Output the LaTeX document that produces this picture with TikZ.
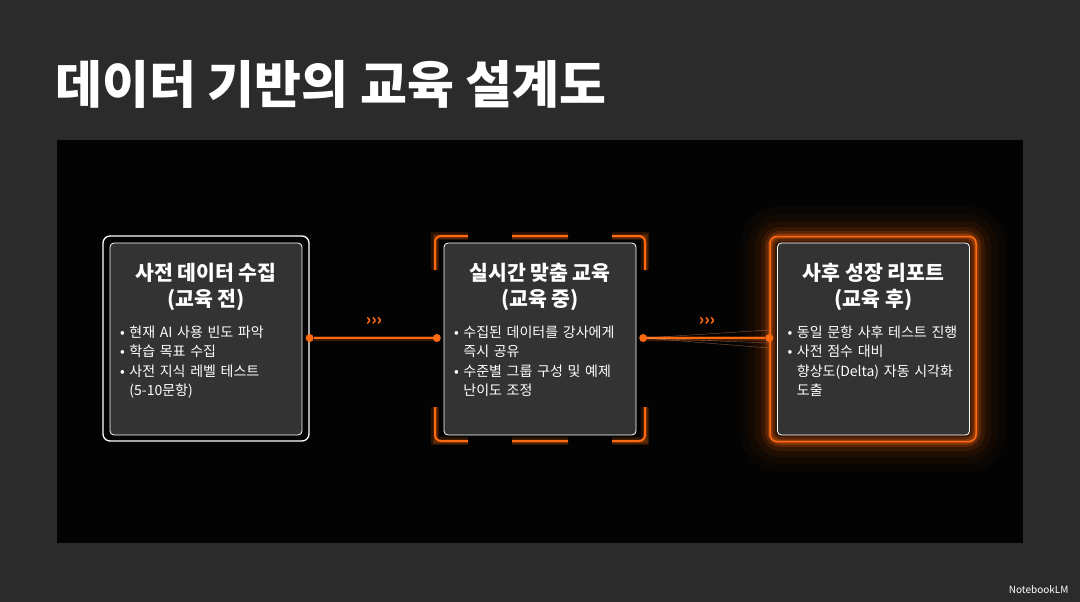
\documentclass[tikz,border=0pt]{standalone}
\usepackage{fontspec}
\setmainfont{Noto Sans CJK KR}
\usepackage{tikz}
\usetikzlibrary{positioning,calc}
\definecolor{bgstone}{HTML}{2B2B2B}
\definecolor{panelbk}{HTML}{030303}
\definecolor{cardgray}{HTML}{333333}
\definecolor{glow}{HTML}{FF6A10}
\tikzset{
  card/.style={draw=white!55, line width=0.8pt, rounded corners=4pt, fill=cardgray,
    minimum width=192pt, minimum height=192pt, inner sep=0pt},
  frame/.style={rounded corners=7pt, minimum width=206pt, minimum height=205pt, inner sep=0pt},
  cardtitle/.style={text=white, font=\bfseries\fontsize{20.5}{26}\selectfont, align=center},
  cardtext/.style={text=white!88, font=\fontsize{14}{19.5}\selectfont, align=left, text width=172pt},
  dot/.style={circle, fill=glow, inner sep=0pt, minimum size=8pt},
  chev/.style={text=glow, font=\bfseries\fontsize{16}{16}\selectfont},
}
\begin{document}
\begin{tikzpicture}[x=1pt,y=-1pt]
  \useasboundingbox (0,0) rectangle (1080,602);
  \fill[bgstone] (0,0) rectangle (1080,602);
  \fill[panelbk] (57,140) rectangle (1023,543);
  \node[anchor=west, text=white, font=\bfseries\fontsize{51}{56}\selectfont] (title) at (52,84) {데이터 기반의 교육 설계도};

  % left card
  \node[frame, draw=white!80, line width=1.3pt] (preframe) at (206,338.5) {};
  \node[card] (pre) at (206,339) {};
  % middle card
  \node[frame] (midframe) at (540,338.5) {};
  \foreach \s in {8,5,3}
    \draw[glow, opacity=0.15, line width=\s pt] (435,270) |- (468,236) (512,236) -- (568,236) (612,236) -| (645,270)
      (435,407) |- (468,441) (512,441) -- (568,441) (612,441) -| (645,407);
  \draw[glow, line width=2pt, rounded corners=6pt] (435,270) |- (468,236) (512,236) -- (568,236) (612,236) -| (645,270)
    (435,407) |- (468,441) (512,441) -- (568,441) (612,441) -| (645,407);
  \node[card] (mid) at (540,339) {};
  % right card with glow
  \foreach \w/\o in {60/0.03,44/0.04,30/0.06,18/0.1,10/0.18,5/0.3}
    \draw[glow, opacity=\o, line width=\w pt, rounded corners=10pt] (770,236) rectangle (976,442);
  \node[frame, draw=glow, line width=1.5pt] (postframe) at (873,339) {};
  \node[card] (post) at (873.5,339) {};

  % titles and bullets
  \node[cardtitle, below=17pt of pre.north] (pretitle) {사전 데이터 수집\\(교육 전)};
  \node[cardtext, below=8pt of pretitle] (pretext) {• 현재 AI 사용 빈도 파악\\• 학습 목표 수집\\• 사전 지식 레벨 테스트\\\phantom{• }(5-10문항)};
  \node[cardtitle, below=17pt of mid.north] (midtitle) {실시간 맞춤 교육\\(교육 중)};
  \node[cardtext, below=8pt of midtitle] (midtext) {• 수집된 데이터를 강사에게\\\phantom{• }즉시 공유\\• 수준별 그룹 구성 및 예제\\\phantom{• }난이도 조정};
  \node[cardtitle, below=17pt of post.north] (posttitle) {사후 성장 리포트\\(교육 후)};
  \node[cardtext, below=8pt of posttitle] (posttext) {• 동일 문항 사후 테스트 진행\\• 사전 점수 대비\\\phantom{• }향상도(Delta) 자동 시각화\\\phantom{• }도출};

  % connectors
  \node[dot] (d1) at (preframe.east |- 0,338) {};
  \node[dot] (d2) at (midframe.west |- 0,338) {};
  \node[dot] (d3) at (midframe.east |- 0,338) {};
  \node[dot] (d4) at (postframe.west |- 0,338) {};
  \draw[glow, opacity=0.25, line width=5pt] (d1) -- (d2) (d3) -- (d4);
  \draw[glow, line width=2pt] (d1) -- (d2) (d3) -- (d4);
  \draw[glow!60!white, opacity=0.5, line width=0.4pt] (d3) -- ($(d4)+(0,-8)$) (d3) -- ($(d4)+(0,10)$) (d3) -- ($(d4)+(0,5)$);
  \node[chev] (c1) at (374,321) {›››};
  \node[chev] (c2) at (707,321) {›››};

  \node[anchor=east, text=white!85, font=\fontsize{10}{10}\selectfont] (brand) at (1072,590) {NotebookLM};
\end{tikzpicture}
\end{document}
